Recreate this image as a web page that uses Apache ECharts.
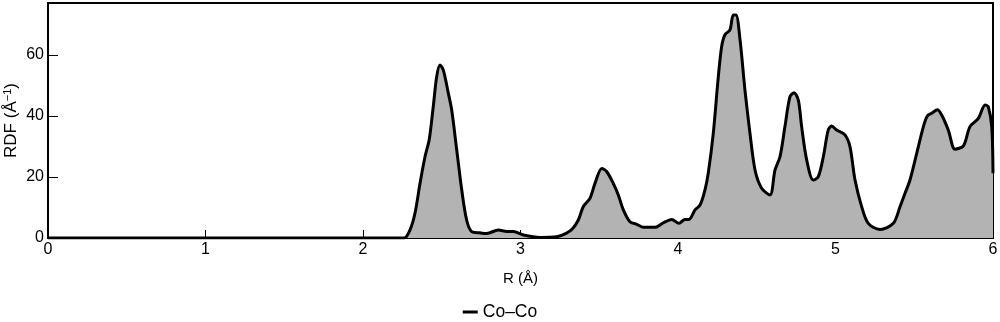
<!DOCTYPE html>
<html>
<head>
<meta charset="utf-8">
<script src="https://cdn.jsdelivr.net/npm/echarts@6/dist/echarts.min.js"></script>
<style>
  html, body { margin: 0; padding: 0; background: #fff; }
  #chart { width: 1000px; height: 322px; }
</style>
</head>
<body>
<div id="chart"></div>
<script>
// R in Angstrom
var rValues = [
  0, 2.0, 2.26, 2.298, 2.33, 2.362, 2.394, 2.42, 2.446, 2.468, 2.489, 2.51, 2.542, 2.563,
  2.595, 2.627, 2.658, 2.69, 2.743, 2.785, 2.859, 2.912, 2.955, 3.018, 3.124, 3.23,
  3.29, 3.33, 3.367, 3.399, 3.441, 3.473, 3.516, 3.547, 3.589, 3.621, 3.653, 3.695,
  3.738, 3.78, 3.854, 3.907, 3.96, 4.006, 4.044, 4.07, 4.108, 4.14, 4.171, 4.192,
  4.224, 4.256, 4.277, 4.298, 4.33, 4.351, 4.368, 4.394, 4.425, 4.457, 4.489, 4.531,
  4.584, 4.616, 4.648, 4.679, 4.711, 4.737, 4.764, 4.785, 4.817, 4.859, 4.891, 4.923,
  4.954, 4.976, 5.007, 5.06, 5.092, 5.124, 5.166, 5.208, 5.282, 5.367, 5.41, 5.441,
  5.473, 5.516, 5.558, 5.583, 5.611, 5.647, 5.674, 5.716, 5.759, 5.812, 5.854, 5.907,
  5.95, 5.97, 5.992, 6.0
];
// RDF (1/Angstrom)
var rdfValues = [
  0, 0, 0, 2.6, 8.1, 17.9, 26.7, 32.1, 43.0, 52.9, 56.7, 55.0, 47.4, 42.0,
  28.9, 15.7, 5.9, 2.1, 1.7, 1.5, 2.6, 2.1, 2.1, 1.0, 0.2, 0.4,
  1.5, 3.0, 5.9, 10.3, 13.0, 17.9, 22.8, 21.8, 17.9, 14.1, 9.2, 5.3,
  4.5, 3.5, 3.5, 5.0, 6.1, 4.8, 6.1, 6.1, 9.2, 10.8, 15.7, 21.2,
  34.3, 52.9, 62.7, 66.6, 68.2, 73.1, 73.1, 64.9, 48.5, 34.3, 22.3, 16.3,
  14.1, 22.3, 26.7, 36.5, 46.3, 47.6, 45.2, 36.5, 25.6, 19.0, 20.1, 26.7,
  35.4, 36.7, 35.4, 33.8, 29.9, 19.0, 10.3, 4.8, 2.8, 4.8, 10.3, 14.6,
  19.0, 27.8, 36.5, 40.0, 40.9, 42.0, 40.3, 35.4, 29.1, 30.2, 36.5, 39.2,
  43.6, 43.0, 36.5, 21.2
];
var seriesName = 'Co\u2013Co';

var points = [];
for (var i = 0; i < rValues.length; i++) {
  points.push([rValues[i], rdfValues[i]]);
}

var myChart = echarts.init(document.getElementById('chart'));
var font = 'Liberation Sans, Arial, sans-serif';

myChart.setOption({
  animation: false,
  textStyle: { fontFamily: font },
  grid: {
    left: 48, right: 7, top: 3, bottom: 84,
    outerBoundsMode: 'none',
    containLabel: false,
    show: true, borderColor: '#000', borderWidth: 2
  },
  legend: {
    top: 298,
    left: 'center',
    data: [seriesName],
    icon: 'rect',
    itemWidth: 15,
    itemHeight: 3,
    itemGap: 10,
    textStyle: { fontSize: 17.5, color: '#000', fontFamily: font },
    itemStyle: { color: '#000' }
  },
  xAxis: {
    type: 'value',
    min: 0, max: 6, interval: 1,
    name: 'R (\u00c5)',
    nameLocation: 'middle',
    nameGap: 33,
    nameMoveOverlap: false,
    nameTextStyle: { fontSize: 15, color: '#000' },
    axisLine: { lineStyle: { color: '#000', width: 2 } },
    axisTick: { inside: true, length: 8, lineStyle: { color: '#000', width: 1 } },
    axisLabel: { fontSize: 16, color: '#000', margin: 4 },
    splitLine: { show: false }
  },
  yAxis: {
    type: 'value',
    min: 0, max: 77, interval: 20,
    name: 'RDF (\u00c5{sup|\u22121})',
    nameLocation: 'middle',
    nameGap: 27,
    nameRotate: 90,
    nameMoveOverlap: false,
    nameTextStyle: {
      fontSize: 17, color: '#000',
      rich: { sup: { fontSize: 11, color: '#000', verticalAlign: 'top', padding: [0, 0, 8, 0] } }
    },
    axisLine: { show: true, lineStyle: { color: '#000', width: 2 } },
    axisTick: { inside: true, length: 10, lineStyle: { color: '#000', width: 1 } },
    axisLabel: {
      fontSize: 16, color: '#000', margin: 4, showMaxLabel: false,
      formatter: function (v) { return v % 20 === 0 ? String(v) : ''; }
    },
    splitLine: { show: false }
  },
  series: [{
    name: seriesName,
    type: 'line',
    data: points,
    smooth: 0.3,
    showSymbol: false,
    lineStyle: { color: '#000', width: 3 },
    itemStyle: { color: '#000' },
    areaStyle: { color: '#b3b3b3', opacity: 1 }
  }]
});
</script>
</body>
</html>
